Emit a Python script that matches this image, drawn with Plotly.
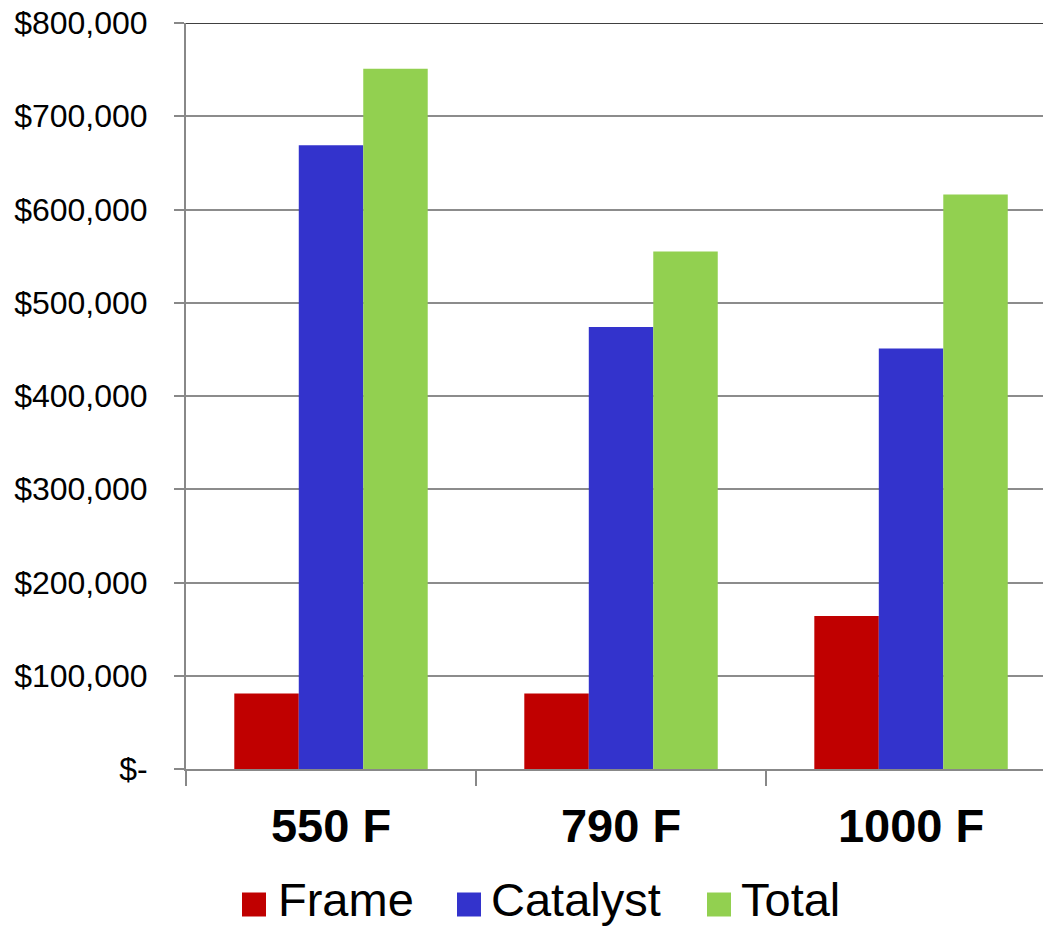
import plotly.graph_objects as go

# Cost by operating temperature
categories = ["550 F", "790 F", "1000 F"]
frame = [81000, 81000, 164000]
catalyst = [669000, 474000, 451000]
total = [751000, 555000, 616000]

series_names = ["Frame", "Catalyst", "Total"]
series_values = [frame, catalyst, total]
series_colors = ["#C00000", "#3333CC", "#92D050"]

y_tick_values = [0, 100000, 200000, 300000, 400000, 500000, 600000, 700000, 800000]
y_tick_labels = ["$-", "$100,000", "$200,000", "$300,000", "$400,000",
                 "$500,000", "$600,000", "$700,000", "$800,000"]

FONT = "Liberation Sans, Arial, Helvetica, sans-serif"
W, H = 1043, 927
M_L, M_R, M_T, M_B = 186, 0, 23, 158
PLOT_W = W - M_L - M_R
PLOT_H = H - M_T - M_B


def px_to_paper_x(px):
    return (px - M_L) / PLOT_W


def px_to_paper_y(py):
    return (H - M_B - py) / PLOT_H


fig = go.Figure()
for name, vals, color in zip(series_names, series_values, series_colors):
    fig.add_trace(go.Bar(
        x=categories, y=vals, name=name,
        marker=dict(color=color, line=dict(width=0)),
        showlegend=False,
    ))

# Legend drawn as coloured squares plus labels below the axis
legend_square_left = [242, 457, 707]
legend_text_left = [277, 490, 740]
sq = 24
sq_top = 892.5
shapes = []
annotations = []
for name, color, sx, tx in zip(series_names, series_colors, legend_square_left, legend_text_left):
    shapes.append(dict(
        type="rect", xref="paper", yref="paper",
        x0=px_to_paper_x(sx), x1=px_to_paper_x(sx + sq),
        y0=px_to_paper_y(sq_top + sq), y1=px_to_paper_y(sq_top),
        fillcolor=color, line=dict(width=0),
    ))
    annotations.append(dict(
        xref="paper", yref="paper",
        x=px_to_paper_x(tx), y=px_to_paper_y(H),
        xanchor="left", yanchor="bottom",
        text=name, showarrow=False, borderpad=0,
        font=dict(family=FONT, size=47, color="black"),
    ))

# Dark top border of the plot area
shapes.append(dict(
    type="line", xref="paper", yref="y",
    x0=0, x1=1, y0=800000, y1=800000,
    line=dict(color="black", width=1.5),
))

fig.update_layout(
    width=W, height=H,
    margin=dict(l=M_L, r=M_R, t=M_T, b=M_B),
    paper_bgcolor="white", plot_bgcolor="white",
    barmode="group", bargap=0.333, bargroupgap=0,
    font=dict(family=FONT, color="black"),
    shapes=shapes, annotations=annotations,
    xaxis=dict(
        type="category", range=[-0.5, 2.455],
        tickson="boundaries", ticks="outside", ticklen=15,
        tickcolor="#888888", tickwidth=2,
        showline=True, linecolor="#888888", linewidth=2,
        showgrid=False,
        tickfont=dict(family=FONT, size=47, color="black", weight=700),
        ticklabelstandoff=15,
    ),
    yaxis=dict(
        range=[0, 800000],
        tickvals=y_tick_values, ticktext=y_tick_labels,
        ticks="outside", ticklen=10,
        tickcolor="#888888", tickwidth=2,
        showline=True, linecolor="#888888", linewidth=2,
        showgrid=True, gridcolor="#8c8c8c", gridwidth=1.5,
        zeroline=False,
        tickfont=dict(family=FONT, size=32, color="black"),
        ticklabelstandoff=20,
    ),
)

fig.write_html("out.html")
